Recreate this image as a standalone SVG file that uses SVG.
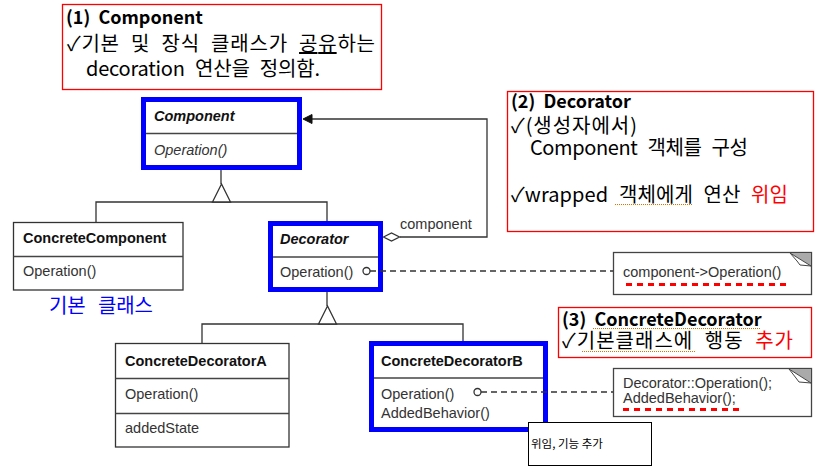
<svg xmlns="http://www.w3.org/2000/svg" width="826" height="471" viewBox="0 0 826 471">
<defs>
<style>
.bg{fill:#fff}
.cls{fill:#fff;stroke:#333;stroke-width:1.3}
.blue{fill:#fff;stroke:#0000ff;stroke-width:5}
.div{stroke:#444;stroke-width:1.3}
.ln{fill:none;stroke:#333;stroke-width:1.3}
.dash{fill:none;stroke:#333;stroke-width:1.3;stroke-dasharray:6 4}
.tri{fill:#fff;stroke:#333;stroke-width:1.3}
.call{fill:#fff;stroke:#ff0000;stroke-width:1.3}
.uname{font-family:"Liberation Sans",Arial,sans-serif;font-size:14.5px;font-weight:bold;fill:#111}
.utxt{font-family:"Liberation Sans",Arial,sans-serif;font-size:14.5px;fill:#333}
.ko{font-family:"Noto Sans CJK KR","Noto Sans","DejaVu Sans",sans-serif;font-size:20px;fill:#000}
.kot{font-family:"Noto Sans CJK KR","Noto Sans","DejaVu Sans",sans-serif;font-size:18px;font-weight:bold;fill:#000}
.red{fill:#ff0000}
.rdot{fill:none;stroke:#ff0000;stroke-width:3;stroke-dasharray:6 5}
.odot{fill:none;stroke:#e07000;stroke-width:1;stroke-dasharray:1 1}
.note{fill:#fff;stroke:#444;stroke-width:1.3}
</style>
</defs>
<rect class="bg" x="0" y="0" width="826" height="471"/>

<g id="callout-component">
  <rect class="call" x="62.5" y="4.5" width="319" height="85"/>
  <text class="kot" x="66" y="24" xml:space="preserve">(1)  Component</text>
  <text class="ko" x="67" y="51" word-spacing="6" textLength="308" lengthAdjust="spacing">✓기본 및 장식 클래스가 <tspan text-decoration="underline">공유</tspan>하는</text>
  <text class="ko" x="86" y="76" word-spacing="6" textLength="234" lengthAdjust="spacing">decoration 연산을 정의함.</text>
</g>

<g id="Component">
  <rect class="blue" x="143.5" y="99.5" width="156" height="68"/>
  <line class="div" x1="146" y1="133.5" x2="297" y2="133.5"/>
  <text class="uname" x="154" y="121" font-style="italic">Component</text>
  <text class="utxt" x="154" y="155" font-style="italic">Operation()</text>
</g>

<g id="ConcreteComponent">
  <rect class="cls" x="13.5" y="222.5" width="169.5" height="67.5"/>
  <line class="div" x1="13.5" y1="256.5" x2="183" y2="256.5"/>
  <text class="uname" x="23" y="243">ConcreteComponent</text>
  <text class="utxt" x="23" y="276">Operation()</text>
</g>

<g id="label-base">
  <text class="ko" x="49" y="313" style="fill:#0000ff" word-spacing="8" textLength="104" lengthAdjust="spacing">기본 클래스</text>
</g>

<g id="Decorator">
  <rect class="blue" x="270.5" y="223.5" width="110" height="66"/>
  <line class="div" x1="273" y1="257" x2="378" y2="257"/>
  <text class="uname" x="280" y="244" font-style="italic">Decorator</text>
  <text class="utxt" x="280" y="277">Operation()</text>
</g>

<g id="callout-decorator">
  <rect class="call" x="507.5" y="91.5" width="306" height="140"/>
  <text class="kot" x="511" y="108" xml:space="preserve">(2)  Decorator</text>
  <text class="ko" x="511" y="133" textLength="126" lengthAdjust="spacing">✓(생성자에서)</text>
  <text class="ko" x="530" y="155" word-spacing="6" textLength="218" lengthAdjust="spacing">Component 객체를 구성</text>
  <text class="ko" x="511" y="202" word-spacing="6" textLength="277" lengthAdjust="spacing">✓wrapped 객체에게 연산 <tspan class="red">위임</tspan></text>
  <line class="odot" x1="615" y1="204.5" x2="692" y2="204.5"/>
</g>

<g id="note-decorator">
  <rect class="note" x="613.5" y="252.5" width="198" height="42"/>
  <polygon fill="#aaa" points="790,253 811,253 811,266"/>
  <path d="M790,253 L811,266 L800,265 L797,261 Z" fill="#fff" stroke="#444" stroke-width="1"/>
  <text class="utxt" x="623" y="277">component-&gt;Operation()</text>
  <line class="rdot" x1="626" y1="284.5" x2="787" y2="284.5"/>
</g>

<g id="ConcreteDecoratorA">
  <rect class="cls" x="115.5" y="343.5" width="173.5" height="103.5"/>
  <line class="div" x1="115.5" y1="378.5" x2="289" y2="378.5"/>
  <line class="div" x1="115.5" y1="413.5" x2="289" y2="413.5"/>
  <text class="uname" x="125" y="366">ConcreteDecoratorA</text>
  <text class="utxt" x="125" y="399">Operation()</text>
  <text class="utxt" x="125" y="433">addedState</text>
</g>

<g id="ConcreteDecoratorB">
  <rect class="blue" x="371.5" y="343.5" width="174" height="86"/>
  <line class="div" x1="374" y1="378" x2="543" y2="378"/>
  <text class="uname" x="381" y="366">ConcreteDecoratorB</text>
  <text class="utxt" x="381" y="399">Operation()</text>
  <text class="utxt" x="381" y="418">AddedBehavior()</text>
</g>

<g id="callout-concretedecorator">
  <rect class="call" x="558.5" y="307.5" width="253" height="50"/>
  <text class="kot" x="562" y="326" xml:space="preserve">(3)  ConcreteDecorator</text>
  <text class="ko" x="562" y="348" word-spacing="6" textLength="231" lengthAdjust="spacing">✓기본클래스에 행동 <tspan class="red">추가</tspan></text>
  <line class="odot" x1="593" y1="328.5" x2="760" y2="328.5"/>
  <line class="odot" x1="582" y1="351.5" x2="695" y2="351.5"/>
</g>

<g id="note-concretedecorator">
  <rect class="note" x="613.5" y="368.5" width="198" height="48"/>
  <polygon fill="#aaa" points="789,369 811,369 811,383"/>
  <path d="M789,369 L811,383 L799,382 L796,378 Z" fill="#fff" stroke="#444" stroke-width="1"/>
  <text class="utxt" x="623" y="388">Decorator::Operation();</text>
  <text class="utxt" x="623" y="403">AddedBehavior();</text>
  <line class="rdot" x1="623" y1="409.5" x2="740" y2="409.5"/>
</g>

<g id="connectors">
  <line class="ln" x1="221" y1="170" x2="221" y2="184"/>
  <polyline class="ln" points="96,222 96,202 327,202 327,221"/>
  <polygon class="tri" points="221.5,184 212.5,202 230.5,202"/>
  <line class="ln" x1="327" y1="292" x2="327" y2="306"/>
  <polyline class="ln" points="202,343 202,324 463,324 463,341"/>
  <polygon class="tri" points="327.5,306 318.5,324 336.5,324"/>
  <polyline class="ln" points="400,237 487,237 487,119 312,119"/>
  <polygon fill="#111" stroke="#111" stroke-width="1" points="303,119 312,114.5 312,123.5"/>
  <polygon class="tri" points="383.5,237 391.5,233 399.5,237 391.5,241"/>
  <text class="utxt" x="400" y="229">component</text>
  <line class="dash" x1="370" y1="271" x2="613" y2="271"/>
  <circle cx="366.5" cy="271" r="3.5" fill="#fff" stroke="#333" stroke-width="1.3"/>
  <line class="dash" x1="481" y1="392" x2="613" y2="392"/>
  <circle cx="477.5" cy="392" r="3.5" fill="#fff" stroke="#333" stroke-width="1.3"/>
</g>

<g id="label-delegate">
  <rect x="528.5" y="422.5" width="123" height="43" fill="#fff" stroke="#000" stroke-width="1"/>
  <text x="531" y="448" font-family="'Noto Sans CJK KR','Noto Sans',sans-serif" font-size="11.5" fill="#000">위임, 기능 추가</text>
</g>
</svg>
